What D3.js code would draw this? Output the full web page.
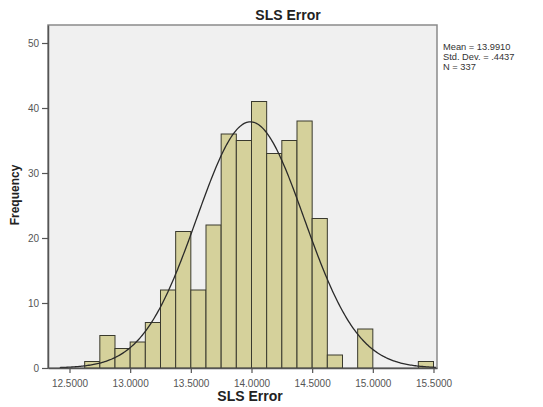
<!DOCTYPE html>
<html>
<head>
<meta charset="utf-8">
<script src="https://cdn.jsdelivr.net/npm/d3@7"></script>
<style>
  body { margin: 0; background: #fff; }
  text { font-family: Arial, "Liberation Sans", sans-serif; }
</style>
</head>
<body>
<svg width="543" height="407"></svg>
<script>
// histogram data
const binStart = 12.625;
const binWidth = 0.125;
const counts = [1, 5, 3, 4, 7, 12, 21, 12, 22, 36, 35, 41, 33, 35, 38, 23, 2, 0, 6, 0, 0, 0, 1];
const xTicks = [12.5, 13.0, 13.5, 14.0, 14.5, 15.0, 15.5];
const yTicks = [0, 10, 20, 30, 40, 50];
const stats = { mean: 13.9910, sd: 0.4437, n: 337 };
const statLines = ["Mean = 13.9910", "Std. Dev. = .4437", "N = 337"];

const svg = d3.select("svg");
const plotL = 48, plotR = 437, plotT = 25, plotB = 368;

const x = d3.scaleLinear().domain([12.3228, 15.5289]).range([plotL, plotR]);
const y = d3.scaleLinear().domain([0, 52.77]).range([plotB, plotT]);

// plot background
svg.append("rect")
  .attr("x", plotL).attr("y", plotT)
  .attr("width", plotR - plotL).attr("height", plotB - plotT)
  .attr("fill", "#f0f0f0")
  .attr("stroke", "#8a8a8a")
  .attr("stroke-width", 1.5);

const bins = counts.map((c, i) => ({ x0: binStart + i * binWidth, x1: binStart + (i + 1) * binWidth, c }))
  .filter(d => d.c > 0);

svg.append("g").selectAll("rect")
  .data(bins).enter()
  .append("rect")
    .attr("x", d => x(d.x0))
    .attr("y", d => y(d.c))
    .attr("width", d => x(d.x1) - x(d.x0))
    .attr("height", d => y(0) - y(d.c))
    .attr("fill", "#d5d19b")
    .attr("stroke", "#3a3a2e")
    .attr("stroke-width", 1);

// normal curve
const scaleN = stats.n * binWidth / (stats.sd * Math.sqrt(2 * Math.PI));
const curvePts = d3.range(12.42, 15.525, 0.01).map(v =>
  [v, scaleN * Math.exp(-0.5 * Math.pow((v - stats.mean) / stats.sd, 2))]);

svg.append("path")
  .datum(curvePts)
  .attr("fill", "none")
  .attr("stroke", "#2a2a2a")
  .attr("stroke-width", 1.3)
  .attr("d", d3.line().x(d => x(d[0])).y(d => y(d[1])));

// axes
const xAxis = svg.append("g")
  .attr("transform", `translate(0,${plotB})`)
  .call(d3.axisBottom(x).tickValues(xTicks).tickFormat(d3.format(".4f")).tickSize(5).tickSizeOuter(0));
const yAxis = svg.append("g")
  .attr("transform", `translate(${plotL},0)`)
  .call(d3.axisLeft(y).tickValues(yTicks).tickSize(6).tickSizeOuter(0));

[xAxis, yAxis].forEach(a => {
  a.select(".domain").attr("stroke", "#555").attr("stroke-width", 1.5);
  a.selectAll(".tick line").attr("stroke", "#555").attr("stroke-width", 1.2);
  a.selectAll(".tick text").attr("fill", "#555").style("font-size", "10px").style("font-family", "Arial, 'Liberation Sans', sans-serif");
});
xAxis.selectAll(".tick text").attr("dy", "1.05em");

// titles
svg.append("text")
  .attr("x", 288).attr("y", 20)
  .attr("text-anchor", "middle")
  .style("font-size", "14px").style("font-weight", "bold")
  .attr("fill", "#222")
  .text("SLS Error");

svg.append("text")
  .attr("x", 250).attr("y", 401)
  .attr("text-anchor", "middle")
  .style("font-size", "14px").style("font-weight", "bold")
  .attr("fill", "#222")
  .text("SLS Error");

svg.append("text")
  .attr("transform", "translate(19,195) rotate(-90)")
  .attr("text-anchor", "middle")
  .style("font-size", "12px").style("font-weight", "bold")
  .attr("fill", "#222")
  .text("Frequency");

svg.append("g").selectAll("text")
  .data(statLines).enter()
  .append("text")
    .attr("x", 443)
    .attr("y", (d, i) => 50 + i * 10)
    .style("font-size", "9.3px")
    .attr("fill", "#333")
    .text(d => d);
</script>
</body>
</html>
